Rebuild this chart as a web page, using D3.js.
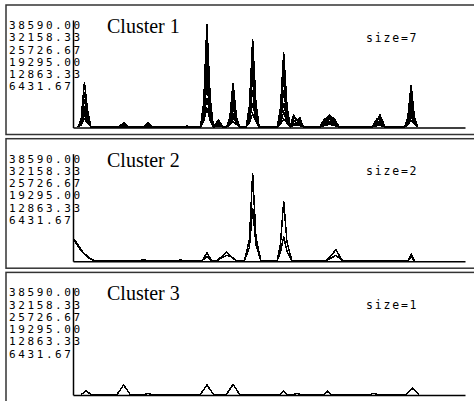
<!DOCTYPE html>
<html>
<head>
<meta charset="utf-8">
<script src="https://cdn.jsdelivr.net/npm/d3@7"></script>
<style>
  html, body { margin: 0; padding: 0; background: #fff; overflow: hidden; }
  .tick { font-family: "DejaVu Sans Mono", monospace; font-size: 11px; letter-spacing: 2.6px; fill: #000; }
  .size { font-family: "DejaVu Sans Mono", monospace; font-size: 11.5px; letter-spacing: 1.8px; fill: #000; }
  .title { font-family: "Liberation Serif", "Times New Roman", serif; font-size: 20px; fill: #000; }
  .axis path { stroke: #000; stroke-width: 1.5px; fill: none; }
</style>
</head>
<body>
<svg id="chart" width="474" height="401"></svg>
<script>

// tick labels (same on every panel)
var tickLabels = ["38590.00", "32158.33", "25726.67", "19295.00", "12863.33", "6431.67"];
var maxValue = 38590;
var xDomain = [0, 240];

var clusterNames = ["Cluster 1", "Cluster 2", "Cluster 3"];
var clusterSizes = ["size=7", "size=2", "size=1"];

// cluster 1: shared x positions, 7 profiles
var c1X = [3,5,7,9,11, 28,31,34, 43,46,49, 68,70,72, 78,80,82,84,86, 89,92, 94,96,98,100,102,
  106,108,110,112,114, 125,127,129,131,133, 135,137,139,141, 151,154,157,160,163, 183,186,188,191, 203,205,207,209,211];
var c1Y = [
  [0,3000,16900,6000,0, 0,1600,0, 0,1600,0, 0,400,0, 0,9000,38590,11000,0, 2600,0, 0,3500,16600,4000,0,
   0,8000,32900,9000,0, 0,7000,28000,8000,0, 4500,2500,3500,0, 0,2500,4500,3000,0, 0,2000,4500,0, 0,3500,15700,4000,0],
  [0,2500,13000,5000,0, 0,1200,0, 0,800,0, 0,300,0, 0,8000,34000,9500,0, 2000,0, 0,3000,13000,3500,0,
   0,7000,29000,8000,0, 0,6000,23500,7000,0, 3500,3000,2000,0, 0,3000,4000,2000,0, 0,3000,3500,0, 0,3000,12500,3500,0],
  [0,2000,10500,4000,0, 0,900,0, 0,1200,0, 0,200,0, 0,6500,27000,8000,0, 1500,0, 0,2500,10000,3000,0,
   0,6000,24000,6500,0, 0,5000,19000,5500,0, 2500,1500,3000,0, 0,2000,3500,2500,0, 0,2500,3000,0, 0,2500,10000,3000,0],
  [0,1500,8000,3000,0, 0,600,0, 0,0,0, 0,0,0, 0,5500,22000,7000,0, 1000,0, 0,2000,7500,2500,0,
   0,4500,19000,5000,0, 0,3500,14000,4500,0, 2000,2500,1500,0, 0,1500,3000,1500,0, 0,1500,2500,0, 0,2000,8000,2500,0],
  [0,1500,6000,2500,0, 0,400,0, 0,0,0, 0,0,0, 0,4500,16000,5500,0, 800,0, 0,1500,5000,2000,0,
   0,3500,14000,4000,0, 0,2500,9000,3000,0, 1500,1000,2000,0, 0,1000,2000,1000,0, 0,1000,1500,0, 0,1500,6000,2000,0],
  [0,1000,4500,2000,0, 0,300,0, 0,0,0, 0,0,0, 0,3000,11000,4000,0, 500,0, 0,1000,3500,1500,0,
   0,2500,9000,3000,0, 0,1500,5500,2000,0, 1000,1500,800,0, 0,800,1500,700,0, 0,800,1000,0, 0,1000,4000,1500,0],
  [0,800,3000,1500,0, 0,0,0, 0,0,0, 0,0,0, 0,2000,7000,2500,0, 300,0, 0,800,2000,1000,0,
   0,1500,5000,2000,0, 0,1000,3000,1500,0, 500,800,500,0, 0,500,1000,500,0, 0,500,600,0, 0,800,2500,1000,0]
];

// cluster 2: 2 profiles
var c2X = [0,2,4,6,9,13, 41,43,45, 64,66,68, 79,82,85, 88,94,98,100, 105,108,110,112,115, 125,127,129,131,134, 155,161,165, 205,207,209];
var c2Y = [
  [8600,7000,5000,3300,1500,0, 0,500,0, 0,300,0, 0,2900,0, 0,3100,800,0, 0,8000,32860,9000,0, 0,6000,22500,7000,0, 0,4100,0, 0,2500,0],
  [8000,6500,4500,3000,1300,0, 0,300,0, 0,200,0, 0,1500,0, 0,2000,1200,0, 0,5000,19900,6000,0, 0,3000,9100,3500,0, 0,2000,0, 0,1500,0]
];

// cluster 3: 1 profile
var c3X = [5,8,11, 27,31,35, 44,46,48, 78,82,86, 94,98,102, 127,129,131, 135,137,139, 154,156,158, 182,184,186, 204,208,212];
var c3Y = [
  [0,1300,0, 0,3560,0, 0,400,0, 0,3560,0, 0,3800,0, 0,1200,0, 0,400,0, 0,1200,0, 0,400,0, 0,2300,0]
];

var clusters = [
  {x: c1X, y: c1Y},
  {x: c2X, y: c2Y},
  {x: c3X, y: c3Y}
];

var svg = d3.select("#chart");

var panelLeft = 6, panelWidth = 480, panelHeight = 129.5, panelStep = 133.7, panelTop = 5;

var x = d3.scaleLinear().domain(xDomain).range([73, 465]);
var tickY = d3.scalePoint().domain(tickLabels).range([24, 85.3]);

clusters.forEach(function(cl, i) {
  var top = panelTop + i * panelStep;
  var g = svg.append("g").attr("transform", "translate(0," + top + ")");

  var y = d3.scaleLinear().domain([0, maxValue]).range([122, 19.3]);
  var yAxisScale = d3.scaleLinear().domain([0, 1]).range([122.5, 15]);

  g.append("rect")
    .attr("x", panelLeft).attr("y", 0)
    .attr("width", panelWidth).attr("height", panelHeight)
    .style("fill", "none").style("stroke", "#333").style("stroke-width", 1.5);

  g.selectAll("text.tick")
    .data(tickLabels)
    .enter().append("text")
    .attr("class", "tick")
    .attr("x", 9)
    .attr("y", function(d) { return tickY(d); })
    .text(function(d) { return d; });

  g.append("text").attr("class", "title")
    .attr("x", 107).attr("y", 28)
    .text(clusterNames[i]);

  g.append("text").attr("class", "size")
    .attr("x", 366).attr("y", 36.5)
    .text(clusterSizes[i]);

  var line = d3.line()
    .x(function(d, j) { return x(cl.x[j]); })
    .y(function(d) { return y(d); });

  g.selectAll("path.profile")
    .data(cl.y)
    .enter().append("path")
    .attr("class", "profile")
    .attr("d", line)
    .style("fill", "none")
    .style("stroke", "#000")
    .style("stroke-width", 1.5)
    .style("shape-rendering", "crispEdges");

  g.append("g").attr("class", "axis")
    .attr("transform", "translate(" + x(xDomain[0]) + ",0)")
    .call(d3.axisLeft(yAxisScale).tickValues([]).tickSizeOuter(0));

  g.append("g").attr("class", "axis")
    .attr("transform", "translate(0," + 122.5 + ")")
    .call(d3.axisBottom(x).tickValues([]).tickSizeOuter(0));
});

</script>
</body>
</html>
